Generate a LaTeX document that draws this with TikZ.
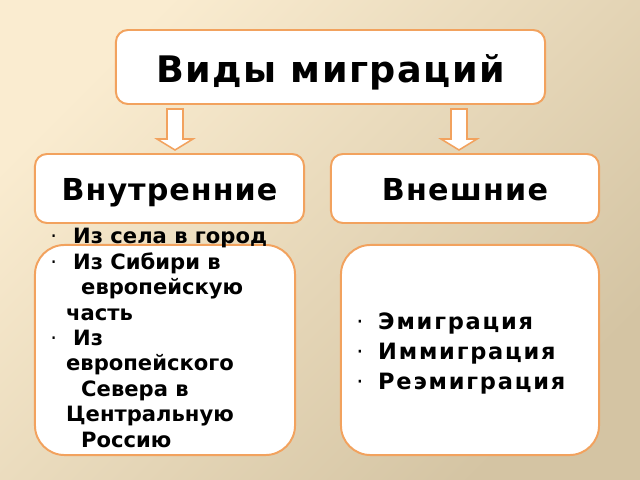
\documentclass[tikz,border=0pt]{standalone}
\usepackage{fontspec}
\setmainfont{DejaVu Sans}
\usetikzlibrary{positioning}
\definecolor{mgtop}{HTML}{FAECD0}
\definecolor{mgbot}{HTML}{D4C4A3}
\definecolor{mgorange}{HTML}{F2A25E}

\begin{document}
\begin{tikzpicture}[x=0.025cm, y=-0.025cm,
  every node/.style={font=\bfseries},
  box/.style={rectangle, rounded corners=8.5pt, draw=mgorange, fill=white, line width=1.4pt, align=center},
  listbox/.style={rectangle, rounded corners=21pt, draw=mgorange, fill=white, line width=1.4pt},
  downarrow/.style={draw=mgorange, fill=white, line width=1.1pt, line join=miter},
]

% Background
\shade[top color=mgtop, bottom color=mgbot, shading angle=45] (0,0) rectangle (640,480);
\useasboundingbox (0,0) rectangle (640,480);

% Boxes
\node[box, minimum width=10.725cm, minimum height=1.85cm, text height=21.8pt, text depth=0pt,
  font=\bfseries\fontsize{26}{30}\selectfont\addfontfeature{LetterSpace=4}] (kinds) at (330.5,67) {Виды миграций};
\node[box, minimum width=6.725cm, minimum height=1.725cm, text height=17.7pt, text depth=0pt,
  font=\bfseries\fontsize{21.5}{25}\selectfont\addfontfeature{LetterSpace=3.3}] (inner) at (169.5,188.5) {Внутренние};
\node[box, minimum width=6.7cm, minimum height=1.725cm, text height=17.7pt, text depth=0pt,
  font=\bfseries\fontsize{21.5}{25}\selectfont\addfontfeature{LetterSpace=3.9}] (outer) at (465,188.5) {Внешние};
\node[listbox, minimum width=6.5cm, minimum height=5.25cm] (innerlist) at (165,350) {};
\node[listbox, minimum width=6.45cm, minimum height=5.25cm] (outerlist) at (470,350) {};

% Arrows
\draw[downarrow] (167,109) -- (183,109) -- (183,139) -- (193,139) -- (175,150) -- (157,139) -- (167,139) -- cycle;
\draw[downarrow] (451,109) -- (467,109) -- (467,139) -- (477,139) -- (459,150) -- (441,139) -- (451,139) -- cycle;

% Lists
\node[anchor=north west, inner sep=0pt, align=left, font=\bfseries\fontsize{15}{18.1}\selectfont] (innertext) at (50,228) {%
\makebox[16.3pt][l]{\mdseries·}Из села в город\\
\makebox[16.3pt][l]{\mdseries·}Из Сибири в\\
\hspace*{22pt}европейскую\\
\hspace*{11.3pt}часть\\
\makebox[16.3pt][l]{\mdseries·}Из\\
\hspace*{11.3pt}европейского\\
\hspace*{22pt}Севера в\\
\hspace*{11.3pt}Центральную\\
\hspace*{22pt}Россию};
\node[anchor=north west, inner sep=0pt, align=left, font=\bfseries\fontsize{16}{21.3}\selectfont\addfontfeature{LetterSpace=8}] (outertext) at (356,313) {%
\makebox[15.6pt][l]{\mdseries·}Эмиграция\\
\makebox[15.6pt][l]{\mdseries·}Иммиграция\\
\makebox[15.6pt][l]{\mdseries·}Реэмиграция};

\end{tikzpicture}
\end{document}
